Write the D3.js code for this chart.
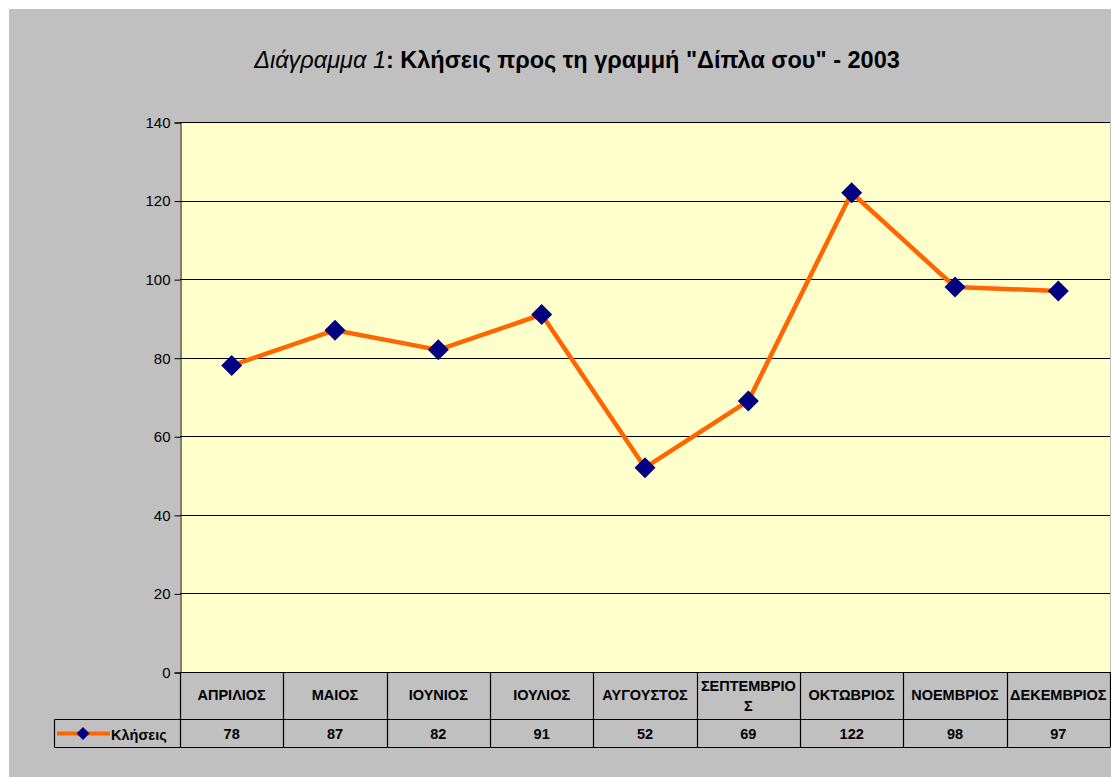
<!DOCTYPE html>
<html>
<head>
<meta charset="utf-8">
<script src="https://cdn.jsdelivr.net/npm/d3@7/dist/d3.min.js"></script>
<style>
body { margin: 0; background: #fff; }
svg { display: block; font-family: "Liberation Sans", Arial, sans-serif; }
</style>
</head>
<body>
<svg width="1111" height="777"></svg>
<script>
// data
var months = ["ΑΠΡΙΛΙΟΣ", "ΜΑΙΟΣ", "ΙΟΥΝΙΟΣ", "ΙΟΥΛΙΟΣ", "ΑΥΓΟΥΣΤΟΣ", "ΣΕΠΤΕΜΒΡΙΟΣ", "ΟΚΤΩΒΡΙΟΣ", "ΝΟΕΜΒΡΙΟΣ", "ΔΕΚΕΜΒΡΙΟΣ"];
var calls = [78, 87, 82, 91, 52, 69, 122, 98, 97];
var yTicks = [0, 20, 40, 60, 80, 100, 120, 140];
var seriesName = "Κλήσεις";

var svg = d3.select("svg");

// grijze achtergrond van de grafiek
svg.append("rect")
    .attr("x", 9).attr("y", 9)
    .attr("width", 1102).attr("height", 768)
    .attr("fill", "#c0c0c0");

// titel: schuin deel + vet deel
var title = svg.append("text")
    .attr("x", 577).attr("y", 68)
    .attr("text-anchor", "middle")
    .attr("font-size", 23.5);
title.append("tspan").attr("font-style", "italic").text("Διάγραμμα 1");
title.append("tspan").attr("font-weight", "bold").text(": Κλήσεις προς τη γραμμή \"Δίπλα σου\" - 2003");

var plotL = 180, plotR = 1110, plotT = 122, plotB = 672;

var x = d3.scaleBand().domain(months).range([plotL, plotR]).padding(0);
var y = d3.scaleLinear().domain([0, 140]).range([plotB, plotT]);

// plot area
svg.append("rect")
    .attr("x", plotL).attr("y", plotT)
    .attr("width", plotR - plotL).attr("height", plotB - plotT)
    .attr("fill", "#ffffcc");

// grid lines
svg.append("g").selectAll("line")
    .data(yTicks)
    .enter().append("line")
    .attr("x1", plotL).attr("x2", plotR)
    .attr("y1", function (d) { return Math.round(y(d)) + 0.5; })
    .attr("y2", function (d) { return Math.round(y(d)) + 0.5; })
    .attr("stroke", "#000").attr("stroke-width", 1);

// y axis
var yAxis = svg.append("g")
    .attr("transform", "translate(" + (plotL + 0.5) + ",0.5)")
    .call(d3.axisLeft(y).tickValues(yTicks).tickSize(6).tickPadding(4));
yAxis.select(".domain").attr("stroke", "#000");
yAxis.selectAll("text")
    .attr("font-family", "Liberation Sans, Arial, sans-serif")
    .attr("font-size", 15).attr("fill", "#000");

// line + markers
var line = d3.line()
    .x(function (d, i) { return x(months[i]) + x.bandwidth() / 2; })
    .y(function (d) { return y(d); });

svg.append("path")
    .datum(calls)
    .attr("d", line)
    .attr("fill", "none")
    .attr("stroke", "#ff6600")
    .attr("stroke-width", 4.5)
    .attr("stroke-linejoin", "round");

var diamond = "M0,-10.5L10.5,0L0,10.5L-10.5,0Z";
svg.append("g").selectAll("path")
    .data(calls)
    .enter().append("path")
    .attr("transform", function (d, i) {
        return "translate(" + (x(months[i]) + x.bandwidth() / 2) + "," + y(d) + ")";
    })
    .attr("d", diamond)
    .attr("fill", "#000080");

// data table below chart
var rowTop = plotB, rowMid = 719.5, rowBot = 747.5, legLeft = 54.5;
var table = svg.append("g").attr("stroke", "#000").attr("stroke-width", 1.2);

table.append("line").attr("x1", plotL).attr("x2", plotR).attr("y1", rowTop + 0.5).attr("y2", rowTop + 0.5);
table.append("line").attr("x1", legLeft).attr("x2", plotR).attr("y1", rowMid).attr("y2", rowMid);
table.append("line").attr("x1", legLeft).attr("x2", plotR).attr("y1", rowBot).attr("y2", rowBot);
table.append("line").attr("x1", legLeft).attr("x2", legLeft).attr("y1", rowMid).attr("y2", rowBot);

var edges = months.map(function (m) { return x(m); }).concat([plotR]);
table.selectAll(".col")
    .data(edges)
    .enter().append("line")
    .attr("class", "col")
    .attr("x1", function (d) { return Math.round(d) + 0.5; })
    .attr("x2", function (d) { return Math.round(d) + 0.5; })
    .attr("y1", rowTop).attr("y2", rowBot);

// month labels (wrapped if too wide)
var labels = svg.append("g").selectAll("text")
    .data(months)
    .enter().append("text")
    .attr("x", function (d) { return x(d) + x.bandwidth() / 2; })
    .attr("text-anchor", "middle")
    .attr("font-size", 14.5)
    .attr("font-weight", "bold")
    .attr("fill", "#000");

labels.each(function (d) {
    var el = d3.select(this);
    var cx = x(d) + x.bandwidth() / 2;
    el.text(d);
    if (this.getComputedTextLength() <= x.bandwidth() - 2) {
        el.attr("y", 700);
        return;
    }
    // breek per teken af
    var lines = [], cur = "";
    el.text("");
    var t = el.append("tspan");
    for (var k = 0; k < d.length; k++) {
        t.text(cur + d[k]);
        if (t.node().getComputedTextLength() > x.bandwidth() - 6 && cur) {
            lines.push(cur);
            cur = d[k];
        } else {
            cur += d[k];
        }
    }
    lines.push(cur);
    el.text("");
    el.attr("y", 691);
    lines.forEach(function (s, j) {
        el.append("tspan").attr("x", cx).attr("dy", j ? 20 : 0).text(s);
    });
});

// value labels
svg.append("g").selectAll("text")
    .data(calls)
    .enter().append("text")
    .attr("x", function (d, i) { return x(months[i]) + x.bandwidth() / 2; })
    .attr("y", 739)
    .attr("text-anchor", "middle")
    .attr("font-size", 14.5)
    .attr("font-weight", "bold")
    .text(function (d) { return d; });

// legend key in the table
var legY = 733.5;
svg.append("line")
    .attr("x1", 57).attr("x2", 110)
    .attr("y1", legY).attr("y2", legY)
    .attr("stroke", "#ff6600").attr("stroke-width", 4);
svg.append("path")
    .attr("transform", "translate(83," + legY + ")")
    .attr("d", "M0,-6.5L6.5,0L0,6.5L-6.5,0Z")
    .attr("fill", "#000080");
svg.append("text")
    .attr("x", 111).attr("y", 740)
    .attr("font-size", 14.5).attr("font-weight", "bold")
    .text(seriesName);
</script>
</body>
</html>
